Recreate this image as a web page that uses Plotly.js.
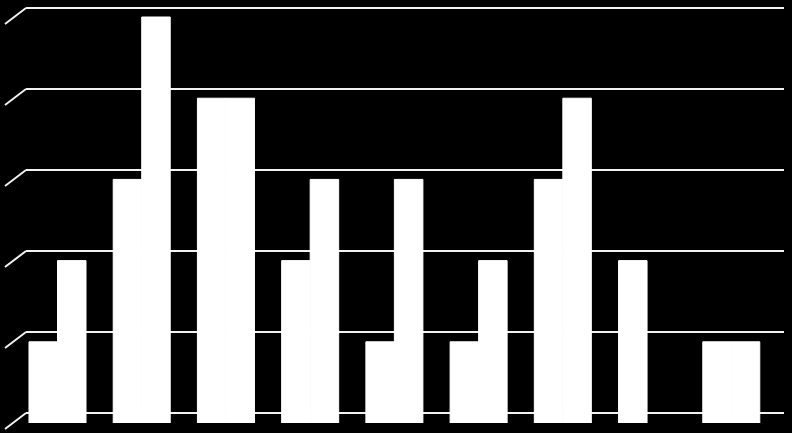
<!DOCTYPE html>
<html>
<head>
<meta charset="utf-8">
<script src="https://cdn.plot.ly/plotly-3.0.1.min.js"></script>
<style>
  html, body { margin: 0; padding: 0; background: #000; }
  #chart { width: 792px; height: 433px; }
</style>
</head>
<body>
<div id="chart"></div>
<script>
const categories = ['1', '2', '3', '4', '5', '6', '7', '8', '9'];
const seriesA = [1, 3, 4, 2, 1, 1, 3, 2, 1];
const seriesB = [2, 5, 4, 3, 3, 2, 4, 0, 1];
const yTicks = [0, 1, 2, 3, 4, 5];

// gridlines sit a little higher than the bar values (fake 3D depth)
const gridRange = [-0.1235, 5];
const barRange = [0, 5.111];

const toPaper = v => (v - gridRange[0]) / (gridRange[1] - gridRange[0]);

const gridLines = [];
yTicks.forEach(v => {
  // horizontal line across the plot
  gridLines.push({
    type: 'line', layer: 'below',
    xref: 'paper', yref: 'paper',
    x0: 0, x1: 1, y0: toPaper(v), y1: toPaper(v),
    line: { color: '#f2f2f2', width: 2 }
  });
  // short diagonal stub at the left end
  gridLines.push({
    type: 'line', layer: 'below',
    xref: 'paper', yref: 'paper',
    x0: -21 / 758, x1: 0,
    y0: toPaper(v) - 16 / 415, y1: toPaper(v),
    line: { color: '#f2f2f2', width: 2 }
  });
});

// white outline hides the seam between touching bars, but not on empty bars
const barStyle = vals => ({
  color: '#ffffff',
  line: { color: '#ffffff', width: vals.map(v => (v > 0 ? 1 : 0)) }
});

const data = [
  { type: 'bar', name: 'A', x: categories, y: seriesA, marker: barStyle(seriesA), hoverinfo: 'none' },
  { type: 'bar', name: 'B', x: categories, y: seriesB, marker: barStyle(seriesB), hoverinfo: 'none' }
];

const layout = {
  width: 792,
  height: 433,
  paper_bgcolor: '#000000',
  plot_bgcolor: '#000000',
  showlegend: false,
  barmode: 'group',
  bargap: 0.323,
  bargroupgap: 0,
  margin: { l: 26, r: 8, t: 8, b: 10 },
  xaxis: {
    type: 'category',
    range: [-0.374, 8.626],
    showgrid: false,
    showticklabels: false,
    showline: false,
    zeroline: false,
    ticks: ''
  },
  yaxis: {
    range: barRange,
    showgrid: false,
    showticklabels: false,
    zeroline: false,
    showline: false,
    ticks: ''
  },
  shapes: gridLines
};

Plotly.newPlot('chart', data, layout, { displayModeBar: false, staticPlot: true });
</script>
</body>
</html>
